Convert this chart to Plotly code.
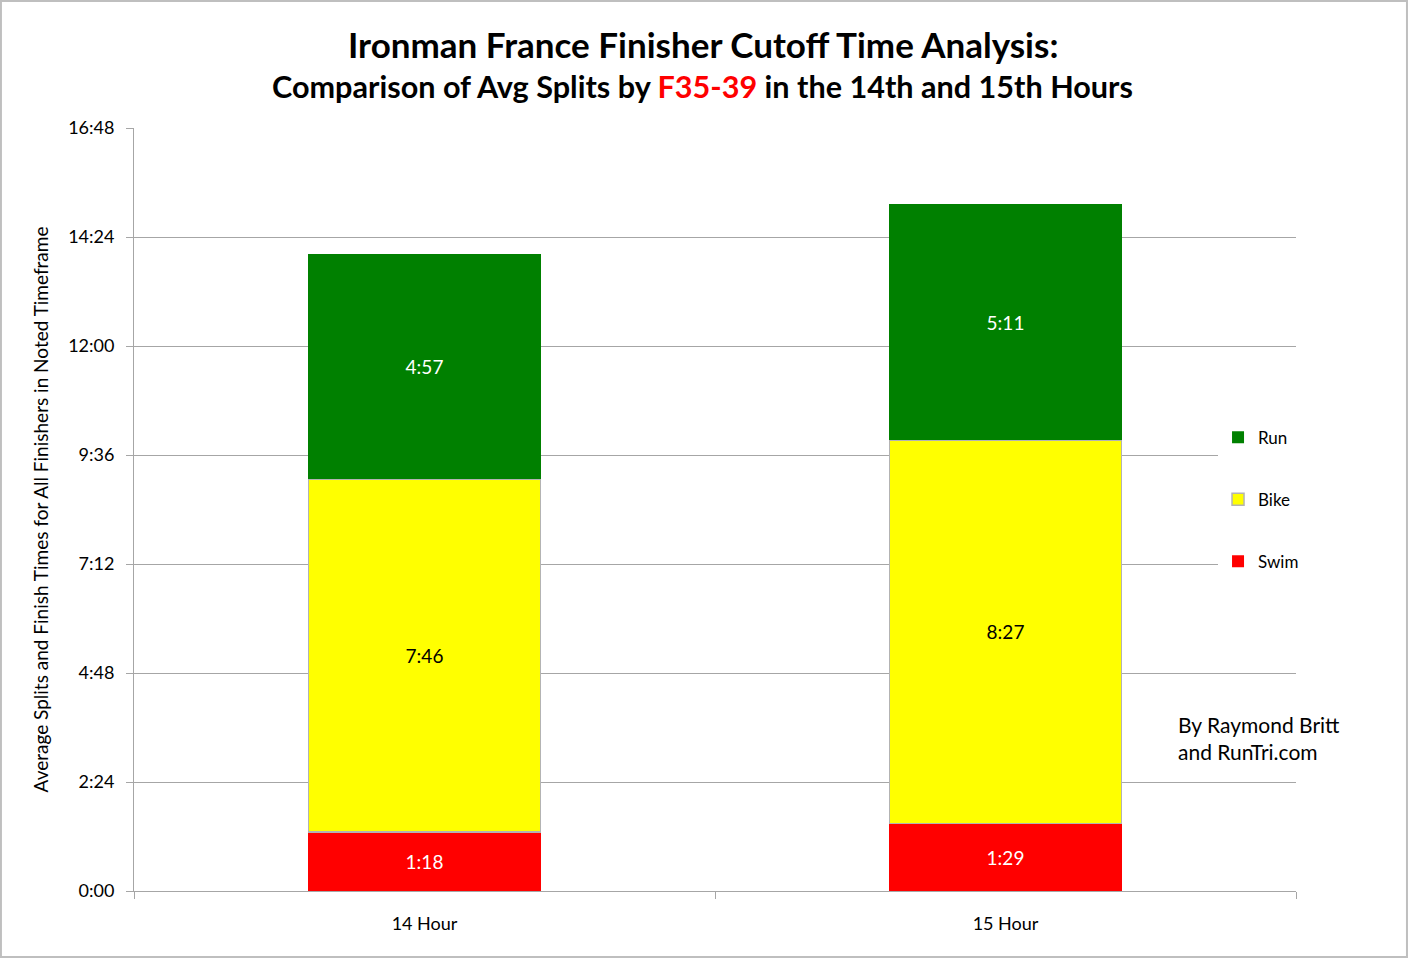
import plotly.graph_objects as go

categories = ["14 Hour", "15 Hour"]
# split times in minutes
swim = [78, 89]
bike = [466, 507]
run = [297, 311]

tick_vals = [0, 144, 288, 432, 576, 720, 864, 1008]
tick_text = ["0:00", "2:24", "4:48", "7:12", "9:36", "12:00", "14:24", "16:48"]


def hm(m):
    return "%d:%02d" % (m // 60, m % 60)


FONT = "Lato, 'Open Sans', sans-serif"
GRID = "#a6a6a6"

fig = go.Figure()
fig.add_trace(go.Bar(x=categories, y=swim, name="Swim", legendgroup="swim", legendrank=3,
                     marker=dict(color="#ff0000", line=dict(color="#ff0000", width=0)),
                     text=[hm(v) for v in swim], textposition="inside",
                     insidetextanchor="middle",
                     textfont=dict(color="white", size=19, family=FONT)))
fig.add_trace(go.Bar(x=categories, y=bike, name="Bike", legendgroup="bike", legendrank=2,
                     marker=dict(color="#ffff00", line=dict(color="#b3b3b3", width=1.5)),
                     text=[hm(v) for v in bike], textposition="inside",
                     insidetextanchor="middle",
                     textfont=dict(color="black", size=19, family=FONT)))
fig.add_trace(go.Bar(x=categories, y=run, name="Run", legendgroup="run", legendrank=1,
                     marker=dict(color="#008000", line=dict(color="#008000", width=0)),
                     text=[hm(v) for v in run], textposition="inside",
                     insidetextanchor="middle",
                     textfont=dict(color="white", size=19, family=FONT)))

fig.update_layout(
    width=1409, height=959,
    barmode="stack", bargap=0.6,
    plot_bgcolor="white", paper_bgcolor="white",
    font=dict(family=FONT, size=18, color="black"),
    margin=dict(l=134, r=113, t=128, b=68),
    uniformtext=dict(mode="show", minsize=19),
    legend=dict(x=0.9329, xanchor="left", y=0.513, yanchor="middle",
                bgcolor="white", traceorder="grouped",
                tracegroupgap=37, font=dict(size=17)),
    showlegend=True,
)

fig.update_xaxes(showline=True, linecolor=GRID, linewidth=1,
                 ticks="outside", tickson="boundaries", ticklen=7, tickcolor=GRID,
                 tickfont=dict(size=18), ticklabelstandoff=16)
fig.update_yaxes(range=[0, 1008], tickvals=tick_vals, ticktext=tick_text,
                 showgrid=True, gridcolor=GRID, gridwidth=1,
                 showline=True, linecolor=GRID, linewidth=1,
                 ticks="outside", ticklen=7, tickcolor=GRID,
                 tickfont=dict(size=18), ticklabelstandoff=8, zeroline=False,
                 title=dict(text="Average Splits and Finish Times for All Finishers in Noted Timeframe",
                            font=dict(size=19), standoff=14))

fig.add_annotation(text="<b>Ironman France Finisher Cutoff Time Analysis:</b>",
                   xref="paper", yref="paper", x=0.4896, y=1.110, yanchor="middle",
                   showarrow=False, font=dict(size=35))
fig.add_annotation(text="<b>Comparison of Avg Splits by <span style='color:#ff0000'>F35-39</span> in the 14th and 15th Hours</b>",
                   xref="paper", yref="paper", x=0.4896, y=1.055, yanchor="middle",
                   showarrow=False, font=dict(size=30.6))
fig.add_annotation(text="By Raymond Britt<br>and RunTri.com",
                   xref="paper", yref="paper", x=0.897, xanchor="left",
                   y=0.2, yanchor="middle", align="left",
                   showarrow=False, font=dict(size=21))

# outer frame
fig.add_shape(type="rect", xref="paper", yref="paper",
              x0=-0.1145, x1=1.0955, y0=-0.0865, y1=1.1664,
              line=dict(color="#bfbfbf", width=2))

fig.write_html("out.html", config={"displayModeBar": False},
               post_script="document.body.style.margin='0';")
